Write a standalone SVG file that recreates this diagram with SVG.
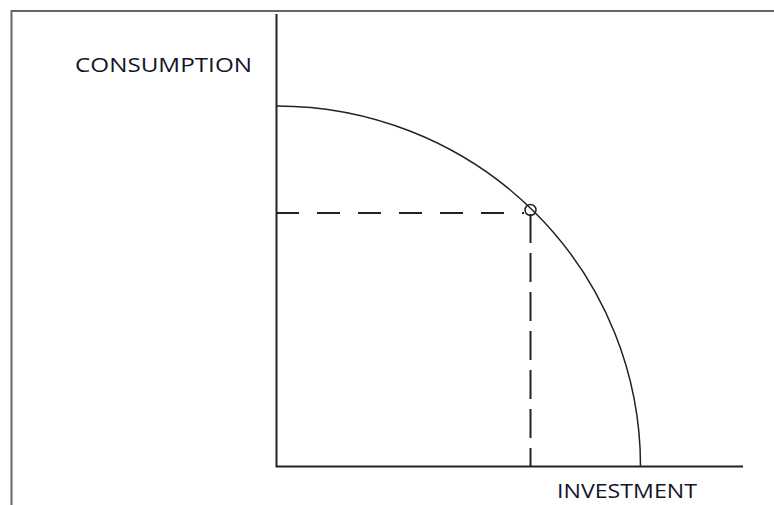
<svg xmlns="http://www.w3.org/2000/svg" width="774" height="505" viewBox="0 0 774 505">
<style>
.frame{fill:none;stroke:#666;stroke-width:2}
.axis{fill:none;stroke:#222;stroke-width:2}
.curve{fill:none;stroke:#222;stroke-width:1.5}
.dash{fill:none;stroke:#222;stroke-width:2}
.lbl{font-family:"Open Sans","Liberation Sans",sans-serif;font-size:20px;fill:#14142a}
</style>
<rect width="774" height="505" fill="#fff"/>
<g id="frame"><path class="frame" d="M11.5,505 V11 H774"/></g>
<g id="axes">
<path class="axis" d="M276.5,14 V466.5 H743"/>
</g>
<g id="ppf"><path class="curve" d="M276.5,106 A364,360 0 0 1 640.5,466"/></g>
<g id="connectors">
<path class="dash" stroke-dasharray="23 18" d="M276,213 H524"/>
<path class="dash" stroke-dasharray="29 10" d="M530.5,214 V466"/>
</g>
<g id="point"><circle cx="530.5" cy="210" r="5.5" fill="none" stroke="#222" stroke-width="1.5"/></g>
<g id="labels">
<text class="lbl" x="75" y="72" textLength="177" lengthAdjust="spacingAndGlyphs">CONSUMPTION</text>
<text class="lbl" x="557" y="498" font-size="19" textLength="140" lengthAdjust="spacingAndGlyphs">INVESTMENT</text>
</g>
</svg>
